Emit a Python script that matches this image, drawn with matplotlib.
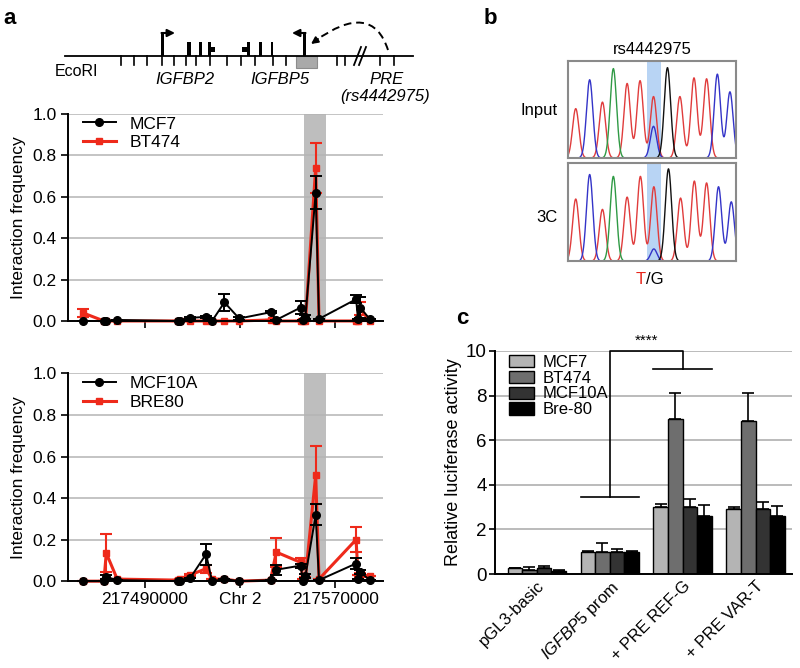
import numpy as np
import matplotlib
matplotlib.use("Agg")
import matplotlib.pyplot as plt
from matplotlib.patches import Rectangle, PathPatch
from matplotlib.path import Path
from matplotlib.lines import Line2D

plt.rcParams['font.family'] = ['Liberation Sans', 'DejaVu Sans']
plt.rcParams['mathtext.fontset'] = 'custom'
plt.rcParams['mathtext.it'] = 'Liberation Sans:italic'
plt.rcParams['mathtext.rm'] = 'Liberation Sans'

# ---------------- panel a data (3C interaction frequencies) ----------------
frag_pos = [217463700, 217472700, 217473700, 217478300, 217503800, 217504900,
            217509000, 217515700, 217518200, 217523400, 217529600, 217542800,
            217545200, 217555500, 217556400, 217557500, 217561800, 217563200,
            217578800, 217579600, 217580500, 217584500]
bait_region = (217556950, 217566200)
x_ticks = [217490000, 217530000, 217570000]
x_ticklabels = ['217490000', 'Chr 2', '217570000']

mcf7 = [0, 0, 0, 0.005, 0, 0, 0.015, 0.02, 0, 0.09, 0.012, 0.042,
        0.005, 0.065, 0.005, 0.02, 0.62, 0.01, 0.105, 0.01, 0.065, 0.01]
mcf7_err = [0, 0, 0, 0, 0, 0, 0.005, 0.005, 0, 0.04, 0.005, 0.005,
            0, 0.03, 0, 0.01, 0.08, 0, 0.02, 0, 0.05, 0]
bt474 = [0.04, 0, 0, 0, 0, 0, 0, 0, 0, 0, 0, 0.005,
         0, 0, 0, 0, 0.74, 0, 0, 0, 0.06, 0]
bt474_err = [0.02, 0, 0, 0, 0, 0, 0, 0, 0, 0, 0, 0,
             0, 0, 0, 0, 0.12, 0, 0, 0, 0.03, 0]
mcf10a = [0, 0, 0.02, 0.005, 0, 0, 0.015, 0.13, 0, 0.01, 0, 0.005,
          0.055, 0.075, 0, 0.025, 0.32, 0.005, 0.085, 0.01, 0.045, 0.005]
mcf10a_err = [0, 0, 0.01, 0, 0, 0, 0, 0.05, 0, 0, 0, 0,
              0.025, 0.01, 0, 0.01, 0.05, 0, 0.025, 0, 0.01, 0]
bre80 = [0, 0, 0.135, 0.01, 0.005, 0.01, 0.03, 0.06, 0.01, 0.01, 0, 0.005,
         0.14, 0.09, 0.01, 0.02, 0.51, 0.01, 0.2, 0.03, 0.03, 0.025]
bre80_err = [0, 0, 0.09, 0, 0, 0, 0.005, 0.02, 0, 0, 0, 0,
             0.07, 0.02, 0, 0, 0.14, 0, 0.06, 0, 0.01, 0]

# schematic (figure pixel units)
ecori_ticks = [120.7, 134, 147.3, 162.3, 174, 185.7, 196, 210, 227.3, 240.7,
               255, 273.3, 286, 337.3, 345, 380, 394.3]
exons_full = [(187.3, 190.7), (199.3, 202), (208.3, 210.7),
              (247.3, 250), (259.3, 262), (270.7, 273.3)]
exons_half = [(210.7, 215), (242.3, 247.3)]

# ---------------- panel b data (chromatogram peaks: pos, height, base) ----------------
input_peaks = [(0.046, 0.53, 'r'), (0.129, 0.84, 'b'), (0.205, 0.60, 'r'), (0.270, 0.96, 'g'),
               (0.352, 0.80, 'r'), (0.429, 0.83, 'r'), (0.509, 0.66, 'r'), (0.509, 0.34, 'b'),
               (0.592, 0.97, 'k'), (0.666, 0.66, 'r'), (0.750, 0.86, 'r'), (0.825, 0.85, 'r'),
               (0.889, 0.90, 'b'), (0.964, 0.71, 'b')]
c3_peaks = [(0.046, 0.66, 'r'), (0.129, 0.92, 'b'), (0.205, 0.55, 'r'), (0.270, 0.90, 'g'),
            (0.352, 0.68, 'r'), (0.431, 0.90, 'r'), (0.511, 0.79, 'r'), (0.511, 0.13, 'b'),
            (0.598, 0.98, 'k'), (0.670, 0.67, 'r'), (0.752, 0.85, 'r'), (0.825, 0.83, 'r'),
            (0.896, 0.79, 'b'), (0.972, 0.63, 'b')]
snp_window = (0.473, 0.551)
base_colors = {'r': '#e03c3c', 'b': '#3434c8', 'g': '#2f9a45', 'k': '#111111'}

# ---------------- panel c data (luciferase) ----------------
constructs = ['pGL3-basic', r'$\mathit{IGFBP5}$ prom', '+ PRE REF-G', '+ PRE VAR-T']
cell_lines = ['MCF7', 'BT474', 'MCF10A', 'Bre-80']
luc_mcf7 = [0.25, 1.0, 3.0, 2.92]
luc_bt474 = [0.2, 1.0, 6.95, 6.88]
luc_mcf10a = [0.25, 1.0, 3.0, 2.92]
luc_bre80 = [0.15, 1.0, 2.62, 2.6]
err_mcf7 = [0.03, 0.03, 0.15, 0.1]
err_bt474 = [0.13, 0.37, 1.15, 1.22]
err_mcf10a = [0.1, 0.1, 0.38, 0.3]
err_bre80 = [0.03, 0.05, 0.47, 0.47]
bar_colors = ['#b4b4b4', '#6e6e6e', '#333333', '#000000']

RED = '#ee2a1b'

fig = plt.figure(figsize=(8, 6.68), dpi=100)


def interaction_panel(ax, yk, ek, yr, er, names, labels_on):
    ax.axvspan(*bait_region, color='#bebebe', lw=0, zorder=0)
    for v in [0.2, 0.4, 0.6, 0.8, 1.0]:
        ax.axhline(v, color='#b4b4b4', lw=1.1, zorder=0.5)
    ax.errorbar(frag_pos, yr, yerr=er, color=RED, lw=2.2, marker='s', ms=5,
                capsize=4, elinewidth=1.5, capthick=1.5, clip_on=False, zorder=2)
    ax.errorbar(frag_pos, yk, yerr=ek, color='black', lw=1.4, marker='o', ms=5.5,
                capsize=4, elinewidth=1.4, capthick=1.4, clip_on=False, zorder=3)
    ax.set_ylim(0, 1.0)
    ax.set_xlim(217457600, 217590200)
    ax.set_yticks([0, 0.2, 0.4, 0.6, 0.8, 1.0])
    ax.set_yticklabels(['0.0', '0.2', '0.4', '0.6', '0.8', '1.0'])
    ax.set_xticks(x_ticks)
    if labels_on:
        ax.set_xticklabels(x_ticklabels)
    else:
        ax.set_xticklabels([])
    for s in ['top', 'right']:
        ax.spines[s].set_visible(False)
    for s in ['left', 'bottom']:
        ax.spines[s].set_linewidth(1.4)
    ax.tick_params(labelsize=12.5, width=1.2, length=5, pad=3)
    ax.set_ylabel('Interaction frequency', fontsize=12.5, labelpad=5)
    handles = [Line2D([], [], color='black', lw=1.4, marker='o', ms=5.5),
               Line2D([], [], color=RED, lw=2.2, marker='s', ms=5)]
    ax.legend(handles, names, loc='upper left', frameon=False, fontsize=12.5,
              handlelength=1.9, borderaxespad=0.1, labelspacing=0.2,
              bbox_to_anchor=(0.02, 1.03))


ax1 = fig.add_axes([0.085, 0.5195, 0.394, 0.31])
interaction_panel(ax1, mcf7, mcf7_err, bt474, bt474_err, ['MCF7', 'BT474'], False)
ax2 = fig.add_axes([0.085, 0.130, 0.394, 0.311])
interaction_panel(ax2, mcf10a, mcf10a_err, bre80, bre80_err, ['MCF10A', 'BRE80'], True)


def chromatogram(ax, peaks):
    xs = np.linspace(0, 1, 800)
    ax.axvspan(*snp_window, color='#b8d4f4', lw=0, zorder=0)
    for base in ['r', 'b', 'g', 'k']:
        trace = np.zeros_like(xs)
        for p, h, b in peaks:
            if b == base:
                trace += h * np.exp(-(xs - p) ** 2 / (2 * 0.019 ** 2))
        ax.plot(xs, trace, color=base_colors[base], lw=1.0, zorder=2)
    ax.set_xlim(0, 1)
    ax.set_ylim(0, 1.04)
    ax.set_xticks([])
    ax.set_yticks([])
    for s in ax.spines.values():
        s.set_color('#8a8a8a')
        s.set_linewidth(1.5)


axb1 = fig.add_axes([0.71, 0.7635, 0.21, 0.145])
chromatogram(axb1, input_peaks)
axb2 = fig.add_axes([0.71, 0.609, 0.21, 0.1467])
chromatogram(axb2, c3_peaks)

# ---------------- panel c ----------------
axc = fig.add_axes([0.619, 0.1407, 0.371, 0.334])
offsets = [-0.3, -0.1, 0.1, 0.3]
series = [(luc_mcf7, err_mcf7), (luc_bt474, err_bt474),
          (luc_mcf10a, err_mcf10a), (luc_bre80, err_bre80)]
xg = np.arange(len(constructs))
for i, (vals, errs) in enumerate(series):
    xp = xg + offsets[i]
    axc.bar(xp, vals, width=0.2, color=bar_colors[i], edgecolor='black',
            lw=1.0, zorder=2, label=cell_lines[i])
    axc.errorbar(xp, vals, yerr=[np.zeros(len(vals)), errs], fmt='none',
                 ecolor='black', elinewidth=1.2, capsize=4, capthick=1.2, zorder=3)
for v in [2, 4, 6, 8, 10]:
    axc.axhline(v, color='#a8a8a8', lw=1.1, zorder=0)
axc.set_xlim(-0.57, 3.5)
axc.set_ylim(0, 10)
axc.set_yticks([0, 2, 4, 6, 8, 10])
axc.set_xticks(xg)
axc.set_xticklabels(constructs, rotation=45, ha='right', rotation_mode='anchor', fontsize=12)
axc.tick_params(axis='y', labelsize=13.5, width=1.2, length=4, pad=2)
axc.tick_params(axis='x', length=0, pad=3)
for s in ['top', 'right']:
    axc.spines[s].set_visible(False)
for s in ['left', 'bottom']:
    axc.spines[s].set_linewidth(1.4)
axc.set_ylabel('Relative luciferase activity', fontsize=13, labelpad=3)
axc.legend(loc='upper left', frameon=False, fontsize=12, handlelength=1.5,
           handleheight=0.75, labelspacing=0.05, borderaxespad=0.1,
           bbox_to_anchor=(0.02, 1.02), handletextpad=0.5)
# significance bracket
bk = dict(color='black', lw=1.2, clip_on=False, zorder=4)
axc.plot([0.6, 1.4], [3.45, 3.45], **bk)
axc.plot([1, 1, 2, 2], [3.45, 10, 10, 9.2], **bk)
axc.plot([1.6, 2.4], [9.2, 9.2], **bk)
axc.text(1.5, 10.45, '****', ha='center', va='center', fontsize=11)

# ---------------- overlay: schematic, labels ----------------
ov = fig.add_axes([0, 0, 1, 1])
ov.set_xlim(0, 800)
ov.set_ylim(668, 0)
ov.axis('off')

ov.plot([65, 413], [56, 56], color='black', lw=1.3)
for t in ecori_ticks:
    ov.plot([t, t], [56, 65], color='black', lw=1.2)
ov.add_patch(Rectangle((296, 56), 21, 12, facecolor='#a9a9a9', edgecolor='#8c8c8c', lw=0.8))
for x0, x1 in exons_full:
    ov.add_patch(Rectangle((x0, 42), x1 - x0, 14, color='black', lw=0))
for x0, x1 in exons_half:
    ov.add_patch(Rectangle((x0, 47), x1 - x0, 5, color='black', lw=0))
# promoters with arrows
ov.add_patch(Rectangle((160.8, 32), 3, 24, color='black', lw=0))
ov.annotate('', xy=(175, 33), xytext=(161.5, 33),
            arrowprops=dict(arrowstyle='-|>', lw=1.5, color='black', mutation_scale=11,
                            shrinkA=0, shrinkB=0))
ov.add_patch(Rectangle((303.2, 32), 3, 24, color='black', lw=0))
ov.annotate('', xy=(292, 33), xytext=(305.5, 33),
            arrowprops=dict(arrowstyle='-|>', lw=1.5, color='black', mutation_scale=11,
                            shrinkA=0, shrinkB=0))
# break marks
for dx in [0, 5]:
    ov.plot([354 + dx, 361 + dx], [65, 47], color='black', lw=1.3)
# dashed looping arrow
A, C, B = (388, 50), (372, 0), (315, 41)
arc = Path([A, C, B], [Path.MOVETO, Path.CURVE3, Path.CURVE3])
ov.add_patch(PathPatch(arc, fill=False, lw=1.4, linestyle=(0, (4, 2.5)), color='black'))
ov.annotate('', xy=(311, 44), xytext=(318, 39),
            arrowprops=dict(arrowstyle='-|>', lw=1.4, color='black', mutation_scale=10,
                            shrinkA=0, shrinkB=0))

ov.text(55, 72, 'EcoRI', fontsize=11.5, va='center', ha='left')
ov.text(185, 80, 'IGFBP2', fontsize=12, style='italic', ha='center', va='center')
ov.text(280, 80, 'IGFBP5', fontsize=12, style='italic', ha='center', va='center')
ov.text(387, 80, 'PRE', fontsize=12, style='italic', ha='center', va='center')
ov.text(385, 97, '(rs4442975)', fontsize=12, style='italic', ha='center', va='center')

ov.text(10, 18, 'a', fontsize=16, fontweight='bold', ha='center', va='center')
ov.text(490, 18, 'b', fontsize=16, fontweight='bold', ha='center', va='center')
ov.text(462, 319, 'c', fontsize=16, fontweight='bold', ha='center', va='center')

ov.text(652, 49, 'rs4442975', fontsize=12, ha='center', va='center')
ov.text(558, 110, 'Input', fontsize=12, ha='right', va='center')
ov.text(558, 217, '3C', fontsize=12, ha='right', va='center')
ov.text(646, 280, 'T', fontsize=12, ha='right', va='center', color='#e8261b')
ov.text(646, 280, '/G', fontsize=12, ha='left', va='center')

fig.savefig('out.png', dpi=100)
